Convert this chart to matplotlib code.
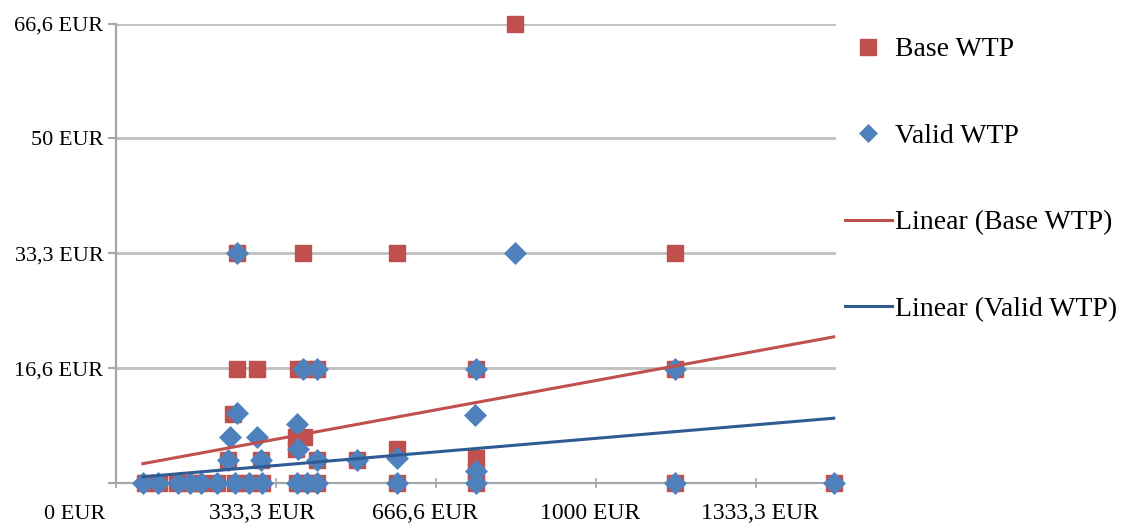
import matplotlib
matplotlib.use("Agg")
import matplotlib.pyplot as plt
import matplotlib.transforms as mtransforms

plt.rcParams['font.family'] = ['Liberation Serif', 'DejaVu Serif']

# Base WTP (squares)
base_x = [60, 90, 127, 154, 175, 210, 248, 277, 304, 377, 398, 419, 585, 750, 1165, 1495,
          233, 302, 419, 502, 750, 750,
          585, 375, 392, 375, 244,
          252, 293, 380, 394, 419, 750, 1165,
          252, 390, 585, 1165,
          831]
base_y = [0, 0, 0, 0, 0, 0, 0, 0, 0, 0, 0, 0, 0, 0, 0, 0,
          3.33, 3.33, 3.33, 3.33, 3.6, 1.67,
          5.0, 6.67, 6.67, 5.0, 10.0,
          16.6, 16.6, 16.6, 16.6, 16.6, 16.6, 16.6,
          33.3, 33.3, 33.3, 33.3,
          66.6]

# Valid WTP (diamonds)
valid_x = [56, 87, 129, 154, 177, 210, 248, 277, 304, 377, 398, 419, 585, 750, 1165, 1495,
           233, 302, 419, 502, 585, 750,
           237, 294, 377, 379, 252, 748,
           390, 419, 750, 1165,
           252, 831]
valid_y = [0, 0, 0, 0, 0, 0, 0, 0, 0, 0, 0, 0, 0, 0, 0, 0,
           3.33, 3.33, 3.33, 3.33, 3.6, 1.67,
           6.67, 6.67, 8.6, 5.0, 10.2, 9.9,
           16.6, 16.6, 16.6, 16.6,
           33.3, 33.3]

# linear trend lines (start / end)
trend_x = [56, 1495]
base_trend = [2.8, 21.2]
valid_trend = [0.9, 9.4]

x_ticks = [0, 333.3, 666.6, 1000, 1333.3]
x_labels = ['0 EUR', '333,3 EUR', '666,6 EUR', '1000 EUR', '1333,3 EUR']
y_ticks = [0, 16.65, 33.3, 50, 66.6]
y_labels = ['', '16,6 EUR', '33,3 EUR', '50 EUR', '66,6 EUR']

red = '#C0504D'
blue = '#4F81BD'
navy = '#2F5B93'
grid_c = '#BFBFBF'

fig = plt.figure(figsize=(11.34, 5.29), dpi=100)
ax = fig.add_axes([0.1023, 0.087, 0.635, 0.8676])

ax.plot(base_x, base_y, linestyle='none', marker='s', markersize=11.5,
        color=red, markeredgecolor=red, label='Base WTP', clip_on=False, zorder=3)
ax.plot(valid_x, valid_y, linestyle='none', marker='D', markersize=11.5,
        color=blue, markeredgecolor=blue, markeredgewidth=0.5,
        label='Valid WTP', clip_on=False, zorder=4)
ax.plot(trend_x, base_trend, color=red, linewidth=2.2, label='Linear (Base WTP)', zorder=5)
ax.plot(trend_x, valid_trend, color=navy, linewidth=2.2, label='Linear (Valid WTP)', zorder=5)

ax.set_xlim(0, 1500)
ax.set_ylim(0, 66.6)
ax.set_xticks(x_ticks)
ax.set_xticklabels(x_labels, fontsize=17)
ax.set_yticks(y_ticks)
ax.set_yticklabels(y_labels, fontsize=16)

ax.grid(axis='y', color=grid_c, linewidth=2)
ax.set_axisbelow(True)
for s in ['top', 'right']:
    ax.spines[s].set_visible(False)
for s in ['left', 'bottom']:
    ax.spines[s].set_color('#A6A6A6')
    ax.spines[s].set_linewidth(1.6)
ax.tick_params(axis='y', length=6, width=1.5, color='#A6A6A6', pad=3)
ax.tick_params(axis='x', direction='inout', length=7, width=1.2, color='#A6A6A6', pad=11)

# shift x labels like the original layout
offsets = [(-41, -2), (-14, 0), (-11, 0), (-6, 0), (4, 0)]
for lab, (dx, dy) in zip(ax.get_xticklabels(), offsets):
    lab.set_transform(lab.get_transform() +
                      mtransforms.ScaledTranslation(dx / 100, dy / 100, fig.dpi_scale_trans))
ax.get_xticklabels()[0].set_fontsize(16)

leg = fig.legend(loc='upper left', bbox_to_anchor=(0.745, 0.93), frameon=False,
                 fontsize=20, handlelength=1.7, handletextpad=0.1, labelspacing=2.2,
                 borderpad=0, borderaxespad=0)
leg.legend_handles[0].set_markersize(11)
leg.legend_handles[1].set_markersize(9.5)

fig.savefig('out.png', dpi=100, facecolor='white')
